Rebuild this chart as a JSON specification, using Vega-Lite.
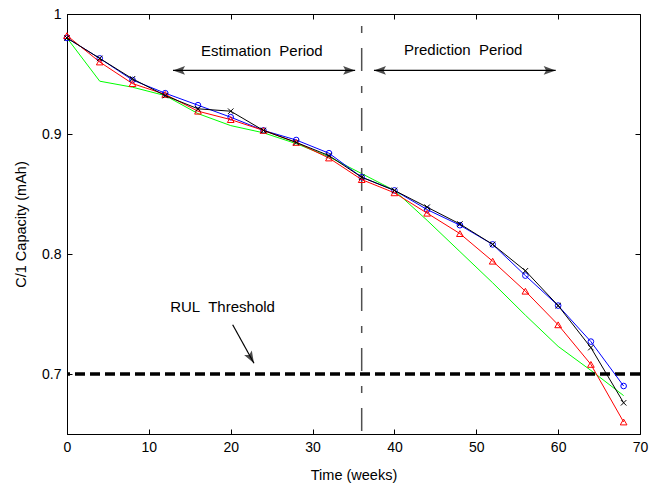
{
  "$schema": "https://vega.github.io/schema/vega-lite/v6.json",
  "width": 573,
  "height": 420,
  "autosize": "none",
  "padding": {"left": 67, "top": 14, "right": 17, "bottom": 50},
  "background": "white",
  "config": {
    "font": "Liberation Sans",
    "view": {"stroke": "black", "strokeWidth": 1},
    "axis": {
      "grid": false,
      "domainColor": "black",
      "tickColor": "black",
      "labelColor": "black",
      "titleColor": "black",
      "labelFont": "Liberation Sans",
      "titleFont": "Liberation Sans",
      "labelFontSize": 14,
      "titleFontSize": 14.5,
      "titleFontWeight": "normal",
      "tickSize": -5,
      "labelPadding": 11,
      "labelFlush": false
    }
  },
  "datasets": {
    "curves": [
      {"week": 0, "cap": 0.980, "series": "Estimate A"},
      {"week": 4, "cap": 0.963, "series": "Estimate A"},
      {"week": 8, "cap": 0.945, "series": "Estimate A"},
      {"week": 12, "cap": 0.934, "series": "Estimate A"},
      {"week": 16, "cap": 0.924, "series": "Estimate A"},
      {"week": 20, "cap": 0.914, "series": "Estimate A"},
      {"week": 24, "cap": 0.903, "series": "Estimate A"},
      {"week": 28, "cap": 0.895, "series": "Estimate A"},
      {"week": 32, "cap": 0.884, "series": "Estimate A"},
      {"week": 36, "cap": 0.864, "series": "Estimate A"},
      {"week": 40, "cap": 0.853, "series": "Estimate A"},
      {"week": 44, "cap": 0.837, "series": "Estimate A"},
      {"week": 48, "cap": 0.824, "series": "Estimate A"},
      {"week": 52, "cap": 0.808, "series": "Estimate A"},
      {"week": 56, "cap": 0.782, "series": "Estimate A"},
      {"week": 60, "cap": 0.757, "series": "Estimate A"},
      {"week": 64, "cap": 0.727, "series": "Estimate A"},
      {"week": 68, "cap": 0.690, "series": "Estimate A"},
      {"week": 0, "cap": 0.980, "series": "Estimate B"},
      {"week": 4, "cap": 0.963, "series": "Estimate B"},
      {"week": 8, "cap": 0.946, "series": "Estimate B"},
      {"week": 12, "cap": 0.932, "series": "Estimate B"},
      {"week": 16, "cap": 0.921, "series": "Estimate B"},
      {"week": 20, "cap": 0.919, "series": "Estimate B"},
      {"week": 24, "cap": 0.903, "series": "Estimate B"},
      {"week": 28, "cap": 0.893, "series": "Estimate B"},
      {"week": 32, "cap": 0.882, "series": "Estimate B"},
      {"week": 36, "cap": 0.864, "series": "Estimate B"},
      {"week": 40, "cap": 0.853, "series": "Estimate B"},
      {"week": 44, "cap": 0.839, "series": "Estimate B"},
      {"week": 48, "cap": 0.825, "series": "Estimate B"},
      {"week": 52, "cap": 0.808, "series": "Estimate B"},
      {"week": 56, "cap": 0.786, "series": "Estimate B"},
      {"week": 60, "cap": 0.757, "series": "Estimate B"},
      {"week": 64, "cap": 0.722, "series": "Estimate B"},
      {"week": 68, "cap": 0.676, "series": "Estimate B"},
      {"week": 0, "cap": 0.982, "series": "Estimate C"},
      {"week": 4, "cap": 0.960, "series": "Estimate C"},
      {"week": 8, "cap": 0.942, "series": "Estimate C"},
      {"week": 12, "cap": 0.933, "series": "Estimate C"},
      {"week": 16, "cap": 0.919, "series": "Estimate C"},
      {"week": 20, "cap": 0.912, "series": "Estimate C"},
      {"week": 24, "cap": 0.903, "series": "Estimate C"},
      {"week": 28, "cap": 0.893, "series": "Estimate C"},
      {"week": 32, "cap": 0.880, "series": "Estimate C"},
      {"week": 36, "cap": 0.862, "series": "Estimate C"},
      {"week": 40, "cap": 0.851, "series": "Estimate C"},
      {"week": 44, "cap": 0.834, "series": "Estimate C"},
      {"week": 48, "cap": 0.817, "series": "Estimate C"},
      {"week": 52, "cap": 0.794, "series": "Estimate C"},
      {"week": 56, "cap": 0.769, "series": "Estimate C"},
      {"week": 60, "cap": 0.741, "series": "Estimate C"},
      {"week": 64, "cap": 0.708, "series": "Estimate C"},
      {"week": 68, "cap": 0.660, "series": "Estimate C"},
      {"week": 0, "cap": 0.980, "series": "Measured"},
      {"week": 4, "cap": 0.944, "series": "Measured"},
      {"week": 8, "cap": 0.939, "series": "Measured"},
      {"week": 12, "cap": 0.932, "series": "Measured"},
      {"week": 16, "cap": 0.917, "series": "Measured"},
      {"week": 20, "cap": 0.907, "series": "Measured"},
      {"week": 24, "cap": 0.901, "series": "Measured"},
      {"week": 28, "cap": 0.892, "series": "Measured"},
      {"week": 32, "cap": 0.881, "series": "Measured"},
      {"week": 36, "cap": 0.867, "series": "Measured"},
      {"week": 40, "cap": 0.853, "series": "Measured"},
      {"week": 44, "cap": 0.828, "series": "Measured"},
      {"week": 48, "cap": 0.802, "series": "Measured"},
      {"week": 52, "cap": 0.776, "series": "Measured"},
      {"week": 56, "cap": 0.749, "series": "Measured"},
      {"week": 60, "cap": 0.723, "series": "Measured"},
      {"week": 64, "cap": 0.703, "series": "Measured"},
      {"week": 68, "cap": 0.682, "series": "Measured"}
    ],
    "spans": [
      {"start": 12.95, "end": 35.2, "level": 0.953},
      {"start": 37.5, "end": 59.7, "level": 0.953}
    ],
    "leftHeads": [
      {"week": 12.95, "cap": 0.953},
      {"week": 37.5, "cap": 0.953}
    ],
    "rightHeads": [
      {"week": 35.2, "cap": 0.953},
      {"week": 59.7, "cap": 0.953}
    ],
    "labels": [
      {"week": 23.8, "cap": 0.969, "label": "Estimation\u00a0 Period"},
      {"week": 48.4, "cap": 0.970, "label": "Prediction\u00a0 Period"},
      {"week": 19.0, "cap": 0.756, "label": "RUL\u00a0 Threshold"}
    ],
    "rulArrow": [
      {"week": 20.24, "cap": 0.741, "week2": 22.84, "cap2": 0.709}
    ],
    "rulHead": [
      {"week": 22.84, "cap": 0.709}
    ],
    "threshold": [{"cap": 0.7}],
    "split": [{"week": 36}]
  },
  "layer": [
    {
      "data": {"name": "curves"},
      "transform": [{"filter": "datum.series === 'Measured'"}],
      "mark": {"type": "line", "color": "#00ff00", "strokeWidth": 1},
      "encoding": {
        "x": {"field": "week", "type": "quantitative", "scale": {"domain": [0, 70], "nice": false},
              "axis": {"orient": "bottom", "values": [0, 10, 20, 30, 40, 50, 60, 70], "title": "Time (weeks)", "titlePadding": 14}},
        "y": {"field": "cap", "type": "quantitative", "scale": {"domain": [0.65, 1], "nice": false, "zero": false},
              "axis": {"orient": "left", "values": [0.7, 0.8, 0.9, 1], "format": "~g", "title": "C/1 Capacity (mAh)", "titlePadding": 13}}
      }
    },
    {
      "data": {"name": "split"},
      "mark": {"type": "rule", "color": "#505050", "strokeWidth": 1.5, "strokeDash": [23, 15, 7, 15], "strokeDashOffset": 26},
      "encoding": {
        "x": {"field": "week", "type": "quantitative", "scale": {"domain": [0, 70], "nice": false},
              "axis": {"orient": "top", "values": [0, 10, 20, 30, 40, 50, 60, 70], "labels": false, "title": null, "domain": false}}
      }
    },
    {
      "data": {"name": "threshold"},
      "mark": {"type": "rule", "color": "black", "strokeWidth": 3.5, "strokeDash": [10, 5]},
      "encoding": {
        "y": {"field": "cap", "type": "quantitative", "scale": {"domain": [0.65, 1], "nice": false, "zero": false},
              "axis": {"orient": "right", "values": [0.7, 0.8, 0.9, 1], "labels": false, "title": null, "domain": false}}
      }
    },
    {
      "data": {"name": "curves"},
      "transform": [{"filter": "datum.series === 'Estimate A'"}],
      "mark": {"type": "line", "color": "#0000ff", "strokeWidth": 1,
               "point": {"shape": "circle", "filled": false, "size": 32, "stroke": "#0000ff", "strokeWidth": 1}},
      "encoding": {
        "x": {"field": "week", "type": "quantitative", "scale": {"domain": [0, 70], "nice": false}, "axis": null},
        "y": {"field": "cap", "type": "quantitative", "scale": {"domain": [0.65, 1], "nice": false, "zero": false}, "axis": null}
      }
    },
    {
      "data": {"name": "curves"},
      "transform": [{"filter": "datum.series === 'Estimate C'"}],
      "mark": {"type": "line", "color": "#ff0000", "strokeWidth": 1,
               "point": {"shape": "triangle-up", "filled": false, "size": 45, "stroke": "#ff0000", "strokeWidth": 1}},
      "encoding": {
        "x": {"field": "week", "type": "quantitative", "scale": {"domain": [0, 70], "nice": false}, "axis": null},
        "y": {"field": "cap", "type": "quantitative", "scale": {"domain": [0.65, 1], "nice": false, "zero": false}, "axis": null}
      }
    },
    {
      "data": {"name": "curves"},
      "transform": [{"filter": "datum.series === 'Estimate B'"}],
      "mark": {"type": "line", "color": "black", "strokeWidth": 1,
               "point": {"shape": "M-1,-1L1,1M-1,1L1,-1", "filled": false, "size": 30, "stroke": "black", "strokeWidth": 1}},
      "encoding": {
        "x": {"field": "week", "type": "quantitative", "scale": {"domain": [0, 70], "nice": false}, "axis": null},
        "y": {"field": "cap", "type": "quantitative", "scale": {"domain": [0.65, 1], "nice": false, "zero": false}, "axis": null}
      }
    },
    {
      "data": {"name": "spans"},
      "mark": {"type": "rule", "color": "black", "strokeWidth": 1.2},
      "encoding": {
        "x": {"field": "start", "type": "quantitative", "scale": {"domain": [0, 70], "nice": false}, "axis": null},
        "x2": {"field": "end"},
        "y": {"field": "level", "type": "quantitative", "scale": {"domain": [0.65, 1], "nice": false, "zero": false}, "axis": null}
      }
    },
    {
      "data": {"name": "leftHeads"},
      "mark": {"type": "point", "shape": "M0,0L-1,-0.37L-0.8,0L-1,0.37Z", "filled": true, "color": "black", "size": 576, "angle": 180, "strokeWidth": 0},
      "encoding": {
        "x": {"field": "week", "type": "quantitative", "scale": {"domain": [0, 70], "nice": false}, "axis": null},
        "y": {"field": "cap", "type": "quantitative", "scale": {"domain": [0.65, 1], "nice": false, "zero": false}, "axis": null}
      }
    },
    {
      "data": {"name": "rightHeads"},
      "mark": {"type": "point", "shape": "M0,0L-1,-0.37L-0.8,0L-1,0.37Z", "filled": true, "color": "black", "size": 576, "angle": 0, "strokeWidth": 0},
      "encoding": {
        "x": {"field": "week", "type": "quantitative", "scale": {"domain": [0, 70], "nice": false}, "axis": null},
        "y": {"field": "cap", "type": "quantitative", "scale": {"domain": [0.65, 1], "nice": false, "zero": false}, "axis": null}
      }
    },
    {
      "data": {"name": "rulArrow"},
      "mark": {"type": "rule", "color": "black", "strokeWidth": 1.2},
      "encoding": {
        "x": {"field": "week", "type": "quantitative", "scale": {"domain": [0, 70], "nice": false}, "axis": null},
        "y": {"field": "cap", "type": "quantitative", "scale": {"domain": [0.65, 1], "nice": false, "zero": false}, "axis": null},
        "x2": {"field": "week2"},
        "y2": {"field": "cap2"}
      }
    },
    {
      "data": {"name": "rulHead"},
      "mark": {"type": "point", "shape": "M0,0L-1,-0.37L-0.8,0L-1,0.37Z", "filled": true, "color": "black", "size": 576, "angle": 60, "strokeWidth": 0},
      "encoding": {
        "x": {"field": "week", "type": "quantitative", "scale": {"domain": [0, 70], "nice": false}, "axis": null},
        "y": {"field": "cap", "type": "quantitative", "scale": {"domain": [0.65, 1], "nice": false, "zero": false}, "axis": null}
      }
    },
    {
      "data": {"name": "labels"},
      "mark": {"type": "text", "color": "black", "fontSize": 15, "font": "Liberation Sans", "align": "center", "baseline": "middle"},
      "encoding": {
        "x": {"field": "week", "type": "quantitative", "scale": {"domain": [0, 70], "nice": false}, "axis": null},
        "y": {"field": "cap", "type": "quantitative", "scale": {"domain": [0.65, 1], "nice": false, "zero": false}, "axis": null},
        "text": {"field": "label"}
      }
    }
  ],
  "resolve": {"axis": {"x": "independent", "y": "independent"}}
}
